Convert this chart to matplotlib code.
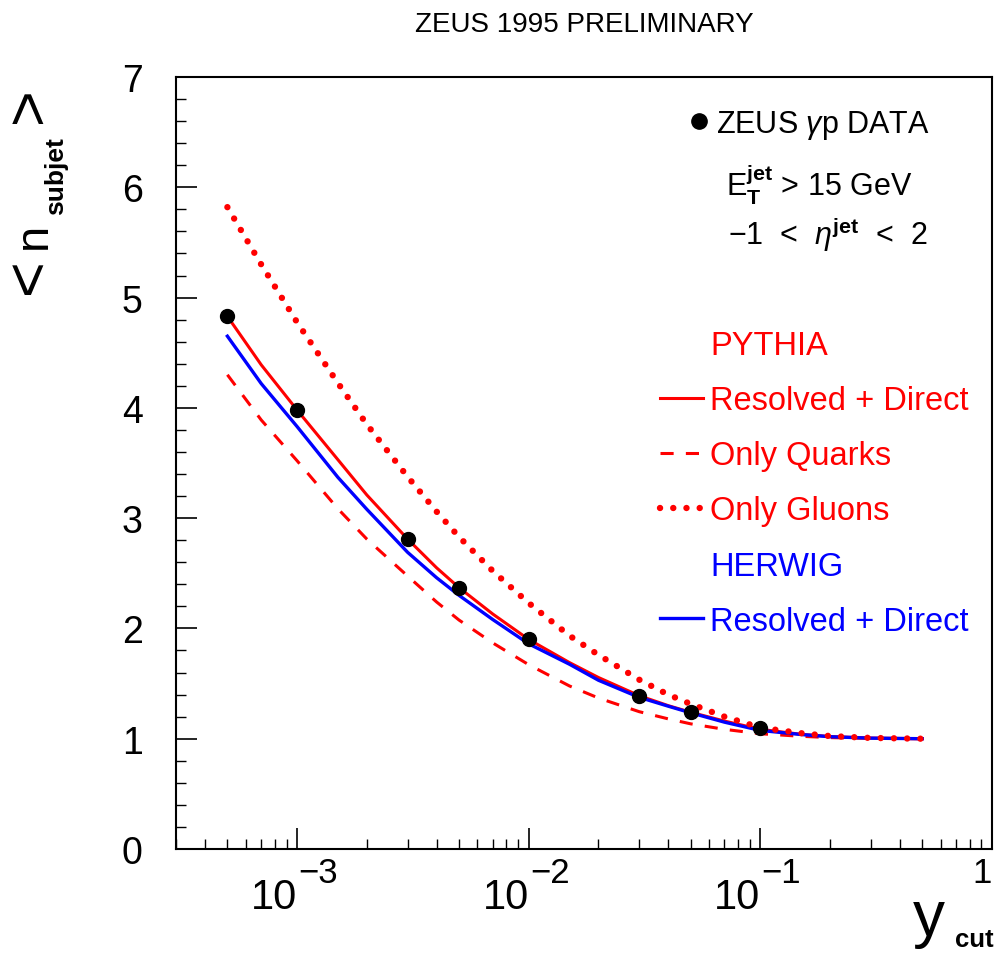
import numpy as np
import matplotlib
matplotlib.use('Agg')
import matplotlib.pyplot as plt
from matplotlib.lines import Line2D
from matplotlib.ticker import MultipleLocator, LogLocator, NullFormatter

plt.rcParams['font.family'] = ['Liberation Sans', 'DejaVu Sans']
plt.rcParams['mathtext.fontset'] = 'custom'
plt.rcParams['mathtext.rm'] = 'Liberation Sans'
plt.rcParams['mathtext.it'] = 'Liberation Sans:italic'
plt.rcParams['mathtext.bf'] = 'Liberation Sans:bold'

# ZEUS 1995 preliminary: mean number of subjets vs y_cut
ycut_data = [5e-4, 1e-3, 3e-3, 5e-3, 1e-2, 3e-2, 5e-2, 0.1]
nsub_data = [4.83, 3.98, 2.81, 2.37, 1.90, 1.39, 1.245, 1.10]

# MC curves
ycut_mc = [5e-4, 7e-4, 1e-3, 1.5e-3, 2e-3, 3e-3, 4e-3, 5e-3, 7e-3, 1e-2,
           1.5e-2, 2e-2, 3e-2, 4e-2, 5e-2, 7e-2, 0.1, 0.15, 0.2, 0.3, 0.5]
pythia_all = [4.83, 4.39, 3.98, 3.53, 3.21, 2.81, 2.55, 2.37, 2.13, 1.90,
              1.69, 1.555, 1.39, 1.30, 1.24, 1.16, 1.085, 1.04, 1.02, 1.006, 1.0]
pythia_quark = [4.30, 3.89, 3.52, 3.085, 2.81, 2.475, 2.24, 2.076, 1.868, 1.671,
                1.478, 1.369, 1.245, 1.18, 1.135, 1.085, 1.045, 1.022, 1.01, 1.003, 1.0]
pythia_gluon = [5.82, 5.30, 4.775, 4.225, 3.85, 3.375, 3.06, 2.83, 2.52, 2.23,
                1.934, 1.76, 1.535, 1.40, 1.315, 1.20, 1.10, 1.05, 1.024, 1.007, 1.0]
herwig_all = [4.65, 4.22, 3.83, 3.37, 3.08, 2.69, 2.46, 2.30, 2.08, 1.86,
              1.675, 1.53, 1.375, 1.295, 1.235, 1.15, 1.075, 1.038, 1.018, 1.005, 1.0]

xtick_vals = [1e-3, 1e-2, 1e-1]
model_labels = ['PYTHIA', 'Resolved + Direct', 'Only Quarks', 'Only Gluons',
                'HERWIG', 'Resolved + Direct']
model_colors = ['#ff0000', '#ff0000', '#ff0000', '#ff0000', '#0000ff', '#0000ff']

W, H = 997, 954
def fx(px):
    return px / W
def fy(py):
    return 1 - py / H

fig = plt.figure(figsize=(W / 100, H / 100), dpi=100)
ax = fig.add_axes([fx(176), fy(850), (992 - 176) / W, (850 - 78) / H])

red, blue = '#ff0000', '#0000ff'
ax.plot(ycut_mc, pythia_all, color=red, lw=2.2)
ax.plot(ycut_mc, pythia_quark, color=red, lw=2.2, ls=(0, (4.3, 4.0)))
ax.plot(ycut_mc, herwig_all, color=blue, lw=2.4)
ax.plot(ycut_mc, pythia_gluon, color=red, lw=4.6, ls=(0, (0.01, 2.06)),
        dash_capstyle='round')
ax.plot(ycut_data, nsub_data, 'o', color='black', ms=10, zorder=5)

ax.set_xscale('log')
ax.set_xlim(3e-4, 1)
ax.set_ylim(0, 7)
ax.yaxis.set_major_locator(MultipleLocator(1))
ax.yaxis.set_minor_locator(MultipleLocator(0.2))
ax.xaxis.set_major_locator(LogLocator(base=10, numticks=10))
ax.xaxis.set_minor_locator(LogLocator(base=10, subs=np.arange(2, 10), numticks=20))
ax.xaxis.set_major_formatter(NullFormatter())
ax.xaxis.set_minor_formatter(NullFormatter())
ax.tick_params(which='both', direction='in', top=False, right=False, color='black')
ax.tick_params(which='major', length=15, width=1.2)
ax.tick_params(which='minor', length=7.5, width=1.0)
ax.tick_params(axis='y', labelsize=27, pad=24)
for s in ax.spines.values():
    s.set_linewidth(1.5)

# x tick labels drawn ROOT style: 10 with a big exponent
for v in xtick_vals:
    e = int(round(np.log10(v)))
    ax.annotate('10', xy=(v, 0), xycoords=('data', 'axes fraction'),
                xytext=(0, -20), textcoords='offset points',
                ha='right', va='top', fontsize=30)
    ax.annotate('\u2212%d' % abs(e), xy=(v, 0), xycoords=('data', 'axes fraction'),
                xytext=(1, -5), textcoords='offset points',
                ha='left', va='top', fontsize=25)
ax.annotate('1', xy=(1, 0), xycoords=('data', 'axes fraction'),
            xytext=(0, -5), textcoords='offset points',
            ha='right', va='top', fontsize=25)

# axis titles
fig.text(fx(31), fy(276), '<', rotation=90, ha='center', va='center', fontsize=44)
fig.text(fx(34), fy(236), 'n', rotation=90, ha='center', va='center', fontsize=34)
fig.text(fx(56), fy(176), 'subjet', rotation=90, ha='center', va='center',
         fontsize=19, fontweight='bold')
fig.text(fx(31), fy(105), '>', rotation=90, ha='center', va='center', fontsize=44)

fig.text(fx(913), fy(936), 'y', ha='left', va='baseline', fontsize=46)
fig.text(fx(955), fy(947), 'cut', ha='left', va='baseline', fontsize=18.5,
         fontweight='bold')

fig.text(fx(584), fy(25), 'ZEUS 1995 PRELIMINARY', ha='center', va='center',
         fontsize=20)

# data legend and cuts
h_data = Line2D([], [], marker='o', ls='none', color='black', ms=11)
leg1 = ax.legend([h_data], [r'ZEUS $\gamma$p DATA'], loc='center left',
                 bbox_to_anchor=(fx(690), fy(125)), bbox_transform=fig.transFigure,
                 frameon=False, fontsize=22, handlelength=0.6, handletextpad=0.25,
                 borderpad=0, borderaxespad=0)
ax.add_artist(leg1)
fig.text(fx(726), fy(185), r'$\mathrm{E}_{\mathbf{T}}^{\mathbf{jet}}$ > 15 GeV',
         va='center', fontsize=22)
fig.text(fx(728), fy(235), '\u22121  <  $\\eta^{\\mathbf{jet}}$  <  2',
         va='center', fontsize=22)

# model legend
blank = Line2D([], [], ls='none')
handles = [blank,
           Line2D([], [], color=red, lw=2.2),
           Line2D([], [], color=red, lw=2.2, ls=(0, (4.3, 4.0))),
           Line2D([], [], color=red, lw=4.6, ls=(0, (0.01, 2.06)), dash_capstyle='round'),
           blank,
           Line2D([], [], color=blue, lw=2.4)]
ax.legend(handles, model_labels, loc='upper left',
          bbox_to_anchor=(fx(660), fy(331)), bbox_transform=fig.transFigure,
          frameon=False, fontsize=23.5, handlelength=1.32, handletextpad=0.22,
          labelspacing=0.74, borderpad=0, borderaxespad=0, labelcolor=model_colors)

fig.savefig('out.png', dpi=100, facecolor='white')
